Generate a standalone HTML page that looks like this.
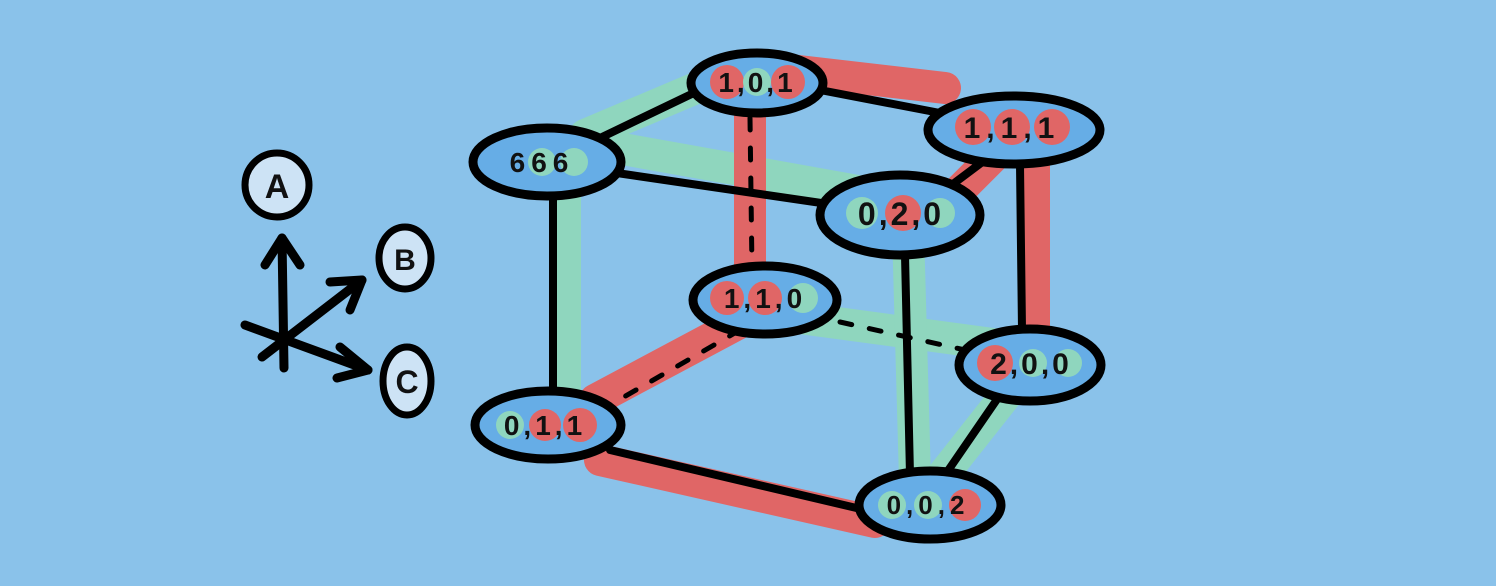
<!DOCTYPE html>
<html><head><meta charset="utf-8"><style>
html,body{margin:0;padding:0;width:1496px;height:586px;overflow:hidden;background:#8ac2ea}
svg{display:block}
text{font-family:"Liberation Sans",sans-serif;font-weight:bold;fill:#111}
</style></head><body>
<svg width="1496" height="586" viewBox="0 0 1496 586" xmlns="http://www.w3.org/2000/svg">
<rect width="1496" height="586" fill="#8ac2ea"/>
<g stroke-linecap="round" fill="none" stroke-width="32">
<g stroke="#8fd6be">
<path d="M585 135 L715 80"/>
<path d="M600 145 L880 195"/>
<path d="M565 170 L565 400"/>
<path d="M800 318 L1000 345"/>
<path d="M908 230 L915 480"/>
<path d="M1010 390 L935 485"/>
</g>
<g stroke="#e06666">
<path d="M790 70 L945 88"/>
<path d="M750 100 L750 290"/>
<path d="M1000 150 L945 205"/>
<path d="M1034 150 L1034 330"/>
<path d="M745 320 L595 400"/>
<path d="M600 460 L875 522"/>
</g>
</g>
<g stroke="#000" stroke-width="8" stroke-linecap="round" fill="none">
<path d="M600 138 L700 90"/>
<path d="M610 172 L835 205"/>
<path d="M553 195 L553 395"/>
<path d="M820 90 L940 113"/>
<path d="M985 160 L945 190"/>
<path d="M1020 165 L1022 330"/>
<path d="M905 255 L910 475"/>
<path d="M1000 395 L945 475"/>
<path d="M610 450 L865 510"/>
<g stroke-width="5" stroke-dasharray="12 18">
<path d="M750 118 L752 270"/>
<path d="M840 322 L965 350"/>
<path d="M740 330 L610 405"/>
</g>
</g>
<g stroke="#000" stroke-width="9" fill="#66ade6">
<ellipse cx="547" cy="162" rx="74" ry="34"/>
<ellipse cx="757" cy="83" rx="66" ry="30"/>
<ellipse cx="1014" cy="130" rx="86" ry="34"/>
<ellipse cx="900" cy="215" rx="80" ry="40"/>
<ellipse cx="765" cy="300" rx="72" ry="34"/>
<ellipse cx="1030" cy="365" rx="71" ry="36"/>
<ellipse cx="548" cy="425" rx="73" ry="34"/>
<ellipse cx="930" cy="505" rx="71" ry="34"/>
</g>
<g>
<circle cx="510" cy="162" r="14" fill="#66ade6"/><circle cx="542" cy="162" r="14" fill="#8fd6be"/><circle cx="574" cy="162" r="14" fill="#8fd6be"/>
<circle cx="727" cy="82" r="17" fill="#e06666"/><circle cx="757" cy="82" r="14" fill="#8fd6be"/><circle cx="788" cy="82" r="17" fill="#e06666"/>
<circle cx="973" cy="127" r="18" fill="#e06666"/><circle cx="1012" cy="127" r="18" fill="#e06666"/><circle cx="1052" cy="127" r="18" fill="#e06666"/>
<circle cx="862" cy="213" r="16" fill="#8fd6be"/><circle cx="903" cy="213" r="18" fill="#e06666"/><circle cx="940" cy="213" r="15" fill="#8fd6be"/>
<circle cx="727" cy="298" r="17" fill="#e06666"/><circle cx="765" cy="298" r="17" fill="#e06666"/><circle cx="803" cy="298" r="15" fill="#8fd6be"/>
<circle cx="995" cy="363" r="18" fill="#e06666"/><circle cx="1033" cy="363" r="14" fill="#8fd6be"/><circle cx="1068" cy="363" r="14" fill="#8fd6be"/>
<circle cx="510" cy="425" r="14" fill="#8fd6be"/><circle cx="545" cy="425" r="16" fill="#e06666"/><circle cx="580" cy="425" r="17" fill="#e06666"/>
<circle cx="892" cy="505" r="14" fill="#8fd6be"/><circle cx="928" cy="505" r="14" fill="#8fd6be"/><circle cx="965" cy="505" r="16" fill="#e06666"/>
</g>
<g font-size="28" text-anchor="middle">
<text x="542" y="172" letter-spacing="6">666</text>
<text x="757" y="92" letter-spacing="3">1,0,1</text>
<text x="1012" y="138" font-size="30" letter-spacing="6">1,1,1</text>
<text x="901" y="225" font-size="32" letter-spacing="3">0,2,0</text>
<text x="765" y="308" letter-spacing="4">1,1,0</text>
<text x="1031" y="374" font-size="30" letter-spacing="3">2,0,0</text>
<text x="545" y="435" letter-spacing="4">0,1,1</text>
<text x="928" y="514" font-size="26" letter-spacing="5">0,0,2</text>
</g>
<g stroke="#000" stroke-width="9" stroke-linecap="round" stroke-linejoin="round" fill="none">
<path d="M284 368 L282 238"/>
<path d="M265 265 L282 238 L300 265"/>
<path d="M262 357 L362 280"/>
<path d="M330 282 L362 280 L350 310"/>
<path d="M245 325 L368 370"/>
<path d="M340 347 L368 370 L337 378"/>
</g>
<g stroke="#000" stroke-width="7" fill="#cde3f5">
<ellipse cx="277" cy="185" rx="32" ry="32"/>
<ellipse cx="405" cy="258" rx="26" ry="31"/>
<ellipse cx="407" cy="381" rx="24" ry="34"/>
</g>
<g font-size="34" text-anchor="middle">
<text x="277" y="198">A</text>
<text x="405" y="270" font-size="30">B</text>
<text x="407" y="393" font-size="32">C</text>
</g>
</svg>
</body></html>
